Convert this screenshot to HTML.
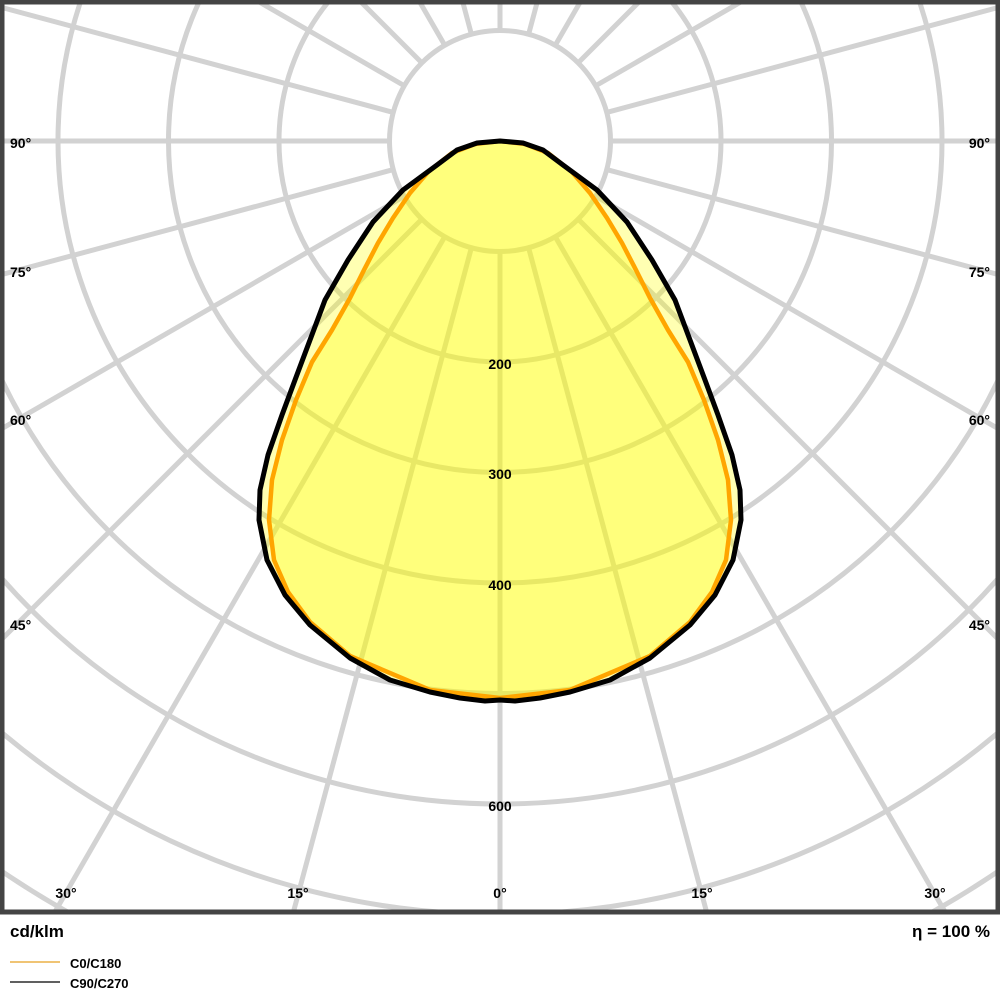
<!DOCTYPE html>
<html><head><meta charset="utf-8"><style>
html,body{margin:0;padding:0;background:#fff;width:1000px;height:1000px;overflow:hidden}
svg{display:block}
text{font-family:"Liberation Sans",Arial,sans-serif;font-weight:bold;fill:#000}
</style></head><body>
<svg width="1000" height="1000" viewBox="0 0 1000 1000" xmlns="http://www.w3.org/2000/svg">
<defs><clipPath id="c"><rect x="4" y="4" width="992" height="907"/></clipPath>
<line id="r" x1="0" y1="110.5" x2="0" y2="1500"/></defs>
<rect width="1000" height="1000" fill="#fff"/>
<g clip-path="url(#c)" stroke="#d2d2d2" stroke-width="5" fill="none">
<g transform="translate(500,141)">
<use href="#r"/>
<use href="#r" transform="rotate(15)"/><use href="#r" transform="rotate(30)"/><use href="#r" transform="rotate(45)"/>
<use href="#r" transform="rotate(60)"/><use href="#r" transform="rotate(75)"/><use href="#r" transform="rotate(90)"/>
<use href="#r" transform="rotate(105)"/><use href="#r" transform="rotate(120)"/><use href="#r" transform="rotate(135)"/>
<use href="#r" transform="rotate(150)"/><use href="#r" transform="rotate(165)"/><use href="#r" transform="rotate(180)"/>
<use href="#r" transform="rotate(-15)"/><use href="#r" transform="rotate(-30)"/><use href="#r" transform="rotate(-45)"/>
<use href="#r" transform="rotate(-60)"/><use href="#r" transform="rotate(-75)"/><use href="#r" transform="rotate(-90)"/>
<use href="#r" transform="rotate(-105)"/><use href="#r" transform="rotate(-120)"/><use href="#r" transform="rotate(-135)"/>
<use href="#r" transform="rotate(-150)"/><use href="#r" transform="rotate(-165)"/>
</g>
<circle cx="500" cy="141" r="110.5"/>
<circle cx="500" cy="141" r="221"/>
<circle cx="500" cy="141" r="331.5"/>
<circle cx="500" cy="141" r="442"/>
<circle cx="500" cy="141" r="552.5"/>
<circle cx="500" cy="141" r="663"/>
<circle cx="500" cy="141" r="773.5"/>
<circle cx="500" cy="141" r="884"/>
<circle cx="500" cy="141" r="994.5"/>
<circle cx="500" cy="141" r="1105"/>
</g>
<g clip-path="url(#c)">
<path fill="#ffff00" fill-opacity="0.3" stroke="none" d="M500,141 L523,143 543,150 563,165 597,190 627,222 652,260 675,300 690,340 705,380 718,415 732,455 740,490 741,520 733,560 715,595 690,625 650,658 610,680 570,692 540,698 515,701 500,700 485,701 460,698 430,692 390,680 350,658 310,625 285,595 267,560 259,520 260,490 268,455 282,415 295,380 310,340 325,300 348,260 373,222 403,190 437,165 457,150 477,143 Z"/>
<path fill="#ffff00" fill-opacity="0.3" stroke="#ffa500" stroke-width="4.5" stroke-linejoin="round" d="M500,141 L525,144 548,153 572,172 590,193 607,218 622,243 636,270 650,298 668,330 688,362 704,400 718,440 728,480 731,520 726,560 712,592 690,622 650,656 570,690 500,698 430,690 350,656 310,622 288,592 274,560 269,520 272,480 282,440 296,400 312,362 332,330 350,298 364,270 378,243 393,218 410,193 428,172 452,153 475,144 Z"/>
<path fill="none" stroke="#000" stroke-width="5" stroke-linejoin="round" d="M500,141 L523,143 543,150 563,165 597,190 627,222 652,260 675,300 690,340 705,380 718,415 732,455 740,490 741,520 733,560 715,595 690,625 650,658 610,680 570,692 540,698 515,701 500,700 485,701 460,698 430,692 390,680 350,658 310,625 285,595 267,560 259,520 260,490 268,455 282,415 295,380 310,340 325,300 348,260 373,222 403,190 437,165 457,150 477,143 Z"/>
</g>
<rect x="2" y="2" width="996" height="910" fill="none" stroke="#444" stroke-width="5"/>
<g font-size="14">
<text x="10" y="148">90°</text><text x="990" y="148" text-anchor="end">90°</text>
<text x="10" y="277">75°</text><text x="990" y="277" text-anchor="end">75°</text>
<text x="10" y="425">60°</text><text x="990" y="425" text-anchor="end">60°</text>
<text x="10" y="630">45°</text><text x="990" y="630" text-anchor="end">45°</text>
<text x="66" y="898" text-anchor="middle">30°</text>
<text x="298" y="898" text-anchor="middle">15°</text>
<text x="500" y="898" text-anchor="middle">0°</text>
<text x="702" y="898" text-anchor="middle">15°</text>
<text x="935" y="898" text-anchor="middle">30°</text>
<text x="500" y="369" text-anchor="middle">200</text>
<text x="500" y="479" text-anchor="middle">300</text>
<text x="500" y="590" text-anchor="middle">400</text>
<text x="500" y="811" text-anchor="middle">600</text>
</g>
<text x="10" y="937" font-size="17">cd/klm</text>
<text x="990" y="937" font-size="17" text-anchor="end">η = 100 %</text>
<line x1="10" y1="962" x2="60" y2="962" stroke="#e8a020" stroke-width="1.2"/>
<line x1="10" y1="982" x2="60" y2="982" stroke="#000" stroke-width="1.2"/>
<text x="70" y="968" font-size="13">C0/C180</text>
<text x="70" y="988" font-size="13">C90/C270</text>
</svg>
</body></html>
